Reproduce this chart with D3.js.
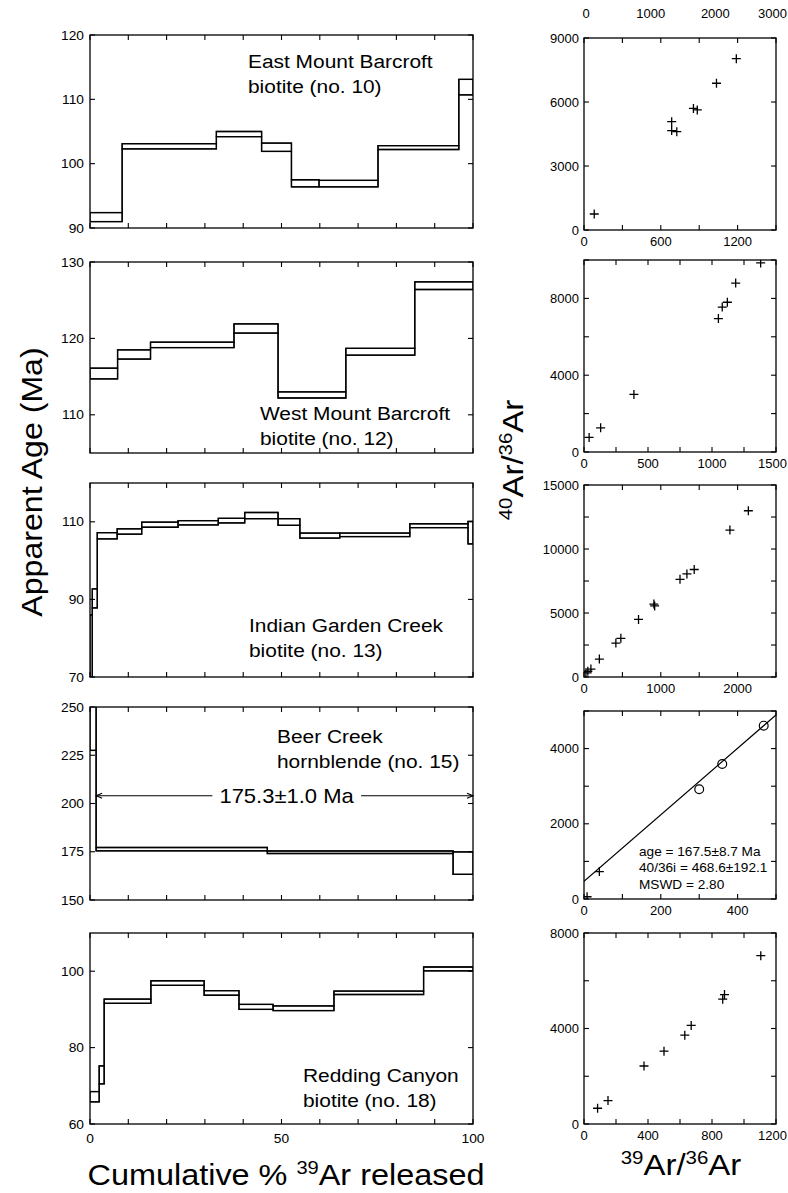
<!DOCTYPE html>
<html><head><meta charset="utf-8">
<script src="https://cdn.jsdelivr.net/npm/d3@7"></script>
<style>
body{margin:0;background:#fff}
svg{display:block}
text{font-family:"Liberation Sans",Arial,Helvetica,sans-serif;fill:#000}
</style>
</head><body>
<svg id="c" width="788" height="1193"></svg>
<script>
// ---------------- DATA ----------------
// Age spectra: step edges (cumulative % 39Ar), upper and lower age bounds (Ma)
const p1Edges = [0, 8.4, 33.0, 44.8, 52.6, 59.8, 75.2, 96.3, 100];
const p1Hi    = [92.4, 103.1, 105.0, 103.2, 97.5, 97.4, 102.8, 113.1];
const p1Lo    = [91.0, 102.3, 104.2, 101.9, 96.4, 96.4, 102.2, 110.7];

const p2Edges = [0, 7.2, 15.8, 37.6, 49.1, 66.8, 84.8, 100];
const p2Hi    = [116.1, 118.5, 119.5, 121.9, 113.0, 118.7, 127.4];
const p2Lo    = [114.7, 117.3, 118.8, 120.7, 112.2, 117.8, 126.4];

const p3Edges = [0, 0.6, 1.9, 7.1, 13.5, 23.0, 33.5, 40.4, 49.1, 54.8, 65.2, 83.5, 98.7, 100];
const p3Hi    = [86, 92.7, 107.2, 108.2, 109.9, 110.3, 110.9, 112.4, 110.8, 107.1, 107.1, 109.5, 110.1];
const p3Lo    = [55, 87.8, 105.6, 106.8, 108.6, 109.2, 109.7, 110.8, 109.1, 105.8, 106.2, 108.5, 104.3];

const p4Edges = [0, 1.6, 46.3, 94.8, 100];
const p4Hi    = [265, 177.2, 175.4, 174.9];
const p4Lo    = [227.5, 175.5, 174.1, 163.3];

const p5Edges = [0, 2.4, 3.7, 15.9, 29.8, 38.9, 47.8, 63.7, 87.1, 100];
const p5Hi    = [68.5, 75.2, 92.7, 97.5, 94.9, 91.3, 90.9, 94.8, 101.1];
const p5Lo    = [65.8, 70.5, 91.6, 96.3, 93.7, 90.0, 89.7, 93.9, 100.1];

const sampleNames = ["East Mount Barcroft", "West Mount Barcroft", "Indian Garden Creek", "Beer Creek", "Redding Canyon"];
const sampleMinerals = ["biotite (no. 10)", "biotite (no. 12)", "biotite (no. 13)", "hornblende (no. 15)", "biotite (no. 18)"];

// Age axis domains and tick values
const ageDomains = [[90, 120], [105, 130], [70, 120], [150, 250], [60, 110]];
const ageTicks   = [[90, 100, 110, 120], [110, 120, 130], [70, 90, 110], [150, 175, 200, 225, 250], [60, 80, 100]];
const pctTicks   = [0, 10, 20, 30, 40, 50, 60, 70, 80, 90, 100];
const pctLabels  = [0, 50, 100];

// Plateau annotation (Beer Creek)
const plateauText = "175.3\u00b11.0 Ma";
const plateauArrowAge = 204;
const plateauStart = 1.6, plateauEnd = 100;

// Isotope correlation: 39Ar/36Ar (x) vs 40Ar/36Ar (y)
const r1X = [80, 685, 685, 725, 855, 885, 1035, 1190];
const r1Y = [750, 5080, 4660, 4610, 5700, 5630, 6880, 8030];
const r2X = [40, 130, 390, 1050, 1080, 1120, 1185, 1380];
const r2Y = [760, 1260, 3000, 6950, 7550, 7800, 8800, 9850];
const r3X = [25, 50, 90, 200, 415, 480, 710, 910, 920, 1250, 1340, 1435, 1900, 2140];
const r3Y = [330, 450, 620, 1400, 2650, 3020, 4500, 5700, 5550, 7630, 8050, 8400, 11480, 12990];
const r4CrossX = [8, 40];
const r4CrossY = [60, 730];
const r4CircX = [300, 360, 468];
const r4CircY = [2920, 3590, 4610];
const r5X = [85, 150, 375, 500, 630, 670, 867, 878, 1105];
const r5Y = [660, 980, 2430, 3050, 3720, 4130, 5230, 5420, 7050];

const isoFitIntercept = 468.6;
const isoFitSlope = 8.85;
const isoNotes = ["age = 167.5\u00b18.7 Ma", "40/36i = 468.6\u00b1192.1", "MSWD = 2.80"];

const rXDomains = [[0, 1500], [0, 1500], [0, 2500], [0, 500], [0, 1200]];
const rXTicks   = [[0,300,600,900,1200,1500],[0,250,500,750,1000,1250,1500],[0,500,1000,1500,2000,2500],[0,100,200,300,400,500],[0,200,400,600,800,1000,1200]];
const rXLabels  = [[0,600,1200],[0,500,1000,1500],[0,1000,2000],[0,200,400],[0,400,800,1200]];
const rYDomains = [[0, 9000], [0, 10000], [0, 15000], [0, 5000], [0, 8000]];
const rYTicks   = [[0,3000,6000,9000],[0,2000,4000,6000,8000,10000],[0,2500,5000,7500,10000,12500,15000],[0,1000,2000,3000,4000,5000],[0,2000,4000,6000,8000]];
const rYLabels  = [[0,3000,6000,9000],[0,4000,8000],[0,5000,10000,15000],[0,2000,4000],[0,4000,8000]];
const strayTopLabels = [0, 1000, 2000, 3000];

// ---------------- LAYOUT ----------------
const svg = d3.select("#c");
const W = 788;
const LX0 = 90, LX1 = 473;
const RX0 = 584, RX1 = 776;
const lTop = [35, 262, 483, 707, 933], lBot = [228, 453, 677, 900, 1124];
const rTop = [38, 260, 485, 711, 933], rBot = [230, 452, 677, 899, 1124];
const TL = 5; // tick length
const SW = 1.3;

function txt(g, x, y, s, size, anchor, sx, rot) {
  return g.append("text")
    .attr("transform", `translate(${x},${y}) rotate(${rot||0}) scale(${sx||1},1)`)
    .attr("font-size", size)
    .attr("text-anchor", anchor || "start")
    .text(s);
}
// keep a text inside the right edge of the picture
function fitRight(t, x, y, sx) {
  const bb = t.node().getBoundingClientRect();
  const sb = svg.node().getBoundingClientRect();
  const right = bb.right - sb.left;
  if (right > W - 1) {
    t.attr("text-anchor", "end").attr("transform", `translate(${W - 1},${y}) scale(${sx||1},1)`);
  }
}

function frame(g, x, y, ticksX, ticksY, x0, x1, y0, y1) {
  g.append("rect").attr("x", x0).attr("y", y0).attr("width", x1 - x0).attr("height", y1 - y0)
    .attr("fill", "none").attr("stroke", "#000").attr("stroke-width", SW);
  const tk = g.append("g").attr("stroke", "#000").attr("stroke-width", 1.1);
  ticksX.forEach(v => {
    const px = x(v);
    tk.append("line").attr("x1", px).attr("x2", px).attr("y1", y1).attr("y2", y1 - TL);
    tk.append("line").attr("x1", px).attr("x2", px).attr("y1", y0).attr("y2", y0 + TL);
  });
  ticksY.forEach(v => {
    const py = y(v);
    tk.append("line").attr("x1", x0).attr("x2", x0 + TL).attr("y1", py).attr("y2", py);
    tk.append("line").attr("x1", x1).attr("x2", x1 - TL).attr("y1", py).attr("y2", py);
  });
}

const xPct = d3.scaleLinear().domain([0, 100]).range([LX0, LX1]);
const spectra = [
  [p1Edges, p1Hi, p1Lo], [p2Edges, p2Hi, p2Lo], [p3Edges, p3Hi, p3Lo],
  [p4Edges, p4Hi, p4Lo], [p5Edges, p5Hi, p5Lo]
];
const labelPos = [[248, 68, 93], [260, 420, 445], [249, 632, 657], [277, 743, 768], [303, 1082, 1107]];

const defs = svg.append("defs");

spectra.forEach((sp, i) => {
  const [edges, hi, lo] = sp;
  const y = d3.scaleLinear().domain(ageDomains[i]).range([lBot[i], lTop[i]]);
  const g = svg.append("g");
  const cid = "lclip" + i;
  defs.append("clipPath").attr("id", cid).append("rect")
    .attr("x", LX0).attr("y", lTop[i]).attr("width", LX1 - LX0).attr("height", lBot[i] - lTop[i]);
  const dg = g.append("g").attr("clip-path", `url(#${cid})`)
    .attr("fill", "none").attr("stroke", "#000").attr("stroke-width", SW);
  hi.forEach((h, k) => {
    dg.append("rect")
      .attr("x", xPct(edges[k])).attr("y", y(h))
      .attr("width", xPct(edges[k + 1]) - xPct(edges[k]))
      .attr("height", y(lo[k]) - y(h));
  });
  const line = d3.line().x(d => xPct(d[0])).y(d => y(d[1]));
  const up = [], dn = [];
  hi.forEach((h, k) => { up.push([edges[k], h], [edges[k + 1], h]); dn.push([edges[k], lo[k]], [edges[k + 1], lo[k]]); });
  dg.append("path").attr("d", line(up));
  dg.append("path").attr("d", line(dn));

  frame(g, xPct, y, pctTicks, ageTicks[i], LX0, LX1, lTop[i], lBot[i]);
  ageTicks[i].forEach(v => txt(g, LX0 - 6, y(v) + 4.5, String(v), 13, "end", 1.06));
  if (i === 4) pctLabels.forEach(v => txt(g, xPct(v), lBot[i] + 19, String(v), 13, "middle", 1.06));

  const [lx, ly1, ly2] = labelPos[i];
  txt(g, lx, ly1, sampleNames[i], 19, "start", 1.1);
  txt(g, lx, ly2, sampleMinerals[i], 19, "start", 1.1);

  if (i === 3) {
    const ay = y(plateauArrowAge);
    const xa = xPct(plateauStart), xb = xPct(plateauEnd);
    const t = txt(g, (xa + xb) / 2 + 2, ay + 7, plateauText, 20, "middle", 1.1);
    const bb = t.node().getBoundingClientRect();
    const sb = svg.node().getBoundingClientRect();
    const tl = bb.left - sb.left - 7, tr = bb.right - sb.left + 7;
    const ag = g.append("g").attr("stroke", "#000").attr("stroke-width", 1.1).attr("fill", "none");
    ag.append("line").attr("x1", xa).attr("x2", tl).attr("y1", ay).attr("y2", ay);
    ag.append("line").attr("x1", tr).attr("x2", xb).attr("y1", ay).attr("y2", ay);
    ag.append("path").attr("d", `M${xa + 6},${ay - 2.5}L${xa},${ay}L${xa + 6},${ay + 2.5}`);
    ag.append("path").attr("d", `M${xb - 6},${ay - 2.5}L${xb},${ay}L${xb - 6},${ay + 2.5}`);
  }
});

// ---------------- ISOCHRON PANELS ----------------
const crossSets = [[r1X, r1Y], [r2X, r2Y], [r3X, r3Y], [r4CrossX, r4CrossY], [r5X, r5Y]];
crossSets.forEach((cs, i) => {
  const x = d3.scaleLinear().domain(rXDomains[i]).range([RX0, RX1]);
  const y = d3.scaleLinear().domain(rYDomains[i]).range([rBot[i], rTop[i]]);
  const g = svg.append("g");
  const cid = "rclip" + i;
  defs.append("clipPath").attr("id", cid).append("rect")
    .attr("x", RX0).attr("y", rTop[i]).attr("width", RX1 - RX0).attr("height", rBot[i] - rTop[i]);
  const dg = g.append("g").attr("clip-path", `url(#${cid})`);

  if (i === 3) {
    const [d0, d1] = rXDomains[i];
    dg.append("line")
      .attr("x1", x(d0)).attr("y1", y(isoFitIntercept + isoFitSlope * d0))
      .attr("x2", x(d1)).attr("y2", y(isoFitIntercept + isoFitSlope * d1))
      .attr("stroke", "#000").attr("stroke-width", 1.2);
    r4CircX.forEach((v, k) => {
      dg.append("circle").attr("cx", x(v)).attr("cy", y(r4CircY[k])).attr("r", 4.4)
        .attr("fill", "none").attr("stroke", "#000").attr("stroke-width", 1.2);
    });
  }
  const [xs, ys] = cs;
  xs.forEach((v, k) => {
    dg.append("path").attr("transform", `translate(${x(v)},${y(ys[k])})`)
      .attr("d", "M-4.5,0H4.5M0,-4.5V4.5").attr("stroke", "#000").attr("stroke-width", 1.3);
  });

  frame(g, x, y, rXTicks[i], rYTicks[i], RX0, RX1, rTop[i], rBot[i]);
  rYLabels[i].forEach(v => txt(g, RX0 - 5, y(v) + 4.5, String(v), 13, "end", 1.0));
  rXLabels[i].forEach(v => {
    const t = txt(g, x(v), rBot[i] + 16, String(v), 13, "middle", 1.0);
    fitRight(t, x(v), rBot[i] + 16, 1.0);
  });

  if (i === 0) {
    const xt = d3.scaleLinear().domain([0, 3000]).range([RX0 + 2, RX1 + 4]);
    strayTopLabels.forEach(v => {
      const t = txt(g, xt(v), 18, String(v), 13, "middle", 1.0);
      fitRight(t, xt(v), 18, 1.0);
    });
  }
  if (i === 3) {
    const nb = [856, 872, 889];
    isoNotes.forEach((s, k) => txt(g, 639, nb[k], s, 13, "start", 1.05));
  }
});

// ---------------- AXIS TITLES ----------------
txt(svg, 42, 482, "Apparent Age (Ma)", 30, "middle", 1.07, -90);

function supText(g, x, y, parts, size, anchor, sx, rot) {
  const t = g.append("text")
    .attr("transform", `translate(${x},${y}) rotate(${rot||0}) scale(${sx||1},1)`)
    .attr("font-size", size).attr("text-anchor", anchor);
  parts.forEach(p => {
    const ts = t.append("tspan").text(p.s);
    if (p.sup) ts.attr("font-size", size * 0.62).attr("dy", -size * 0.37);
    else if (p.down) ts.attr("dy", size * 0.37);
  });
  return t;
}
supText(svg, 523, 460, [
  {s: "40", sup: true}, {s: "Ar/", down: true}, {s: "36", sup: true}, {s: "Ar", down: true}
], 30, "middle", 1.1, -90);

supText(svg, 286, 1185, [
  {s: "Cumulative % "}, {s: "39", sup: true}, {s: "Ar released", down: true}
], 30, "middle", 1.08, 0);

supText(svg, 681, 1175, [
  {s: "39", sup: true}, {s: "Ar/", down: true}, {s: "36", sup: true}, {s: "Ar", down: true}
], 30, "middle", 1.1, 0);
</script>
</body></html>
